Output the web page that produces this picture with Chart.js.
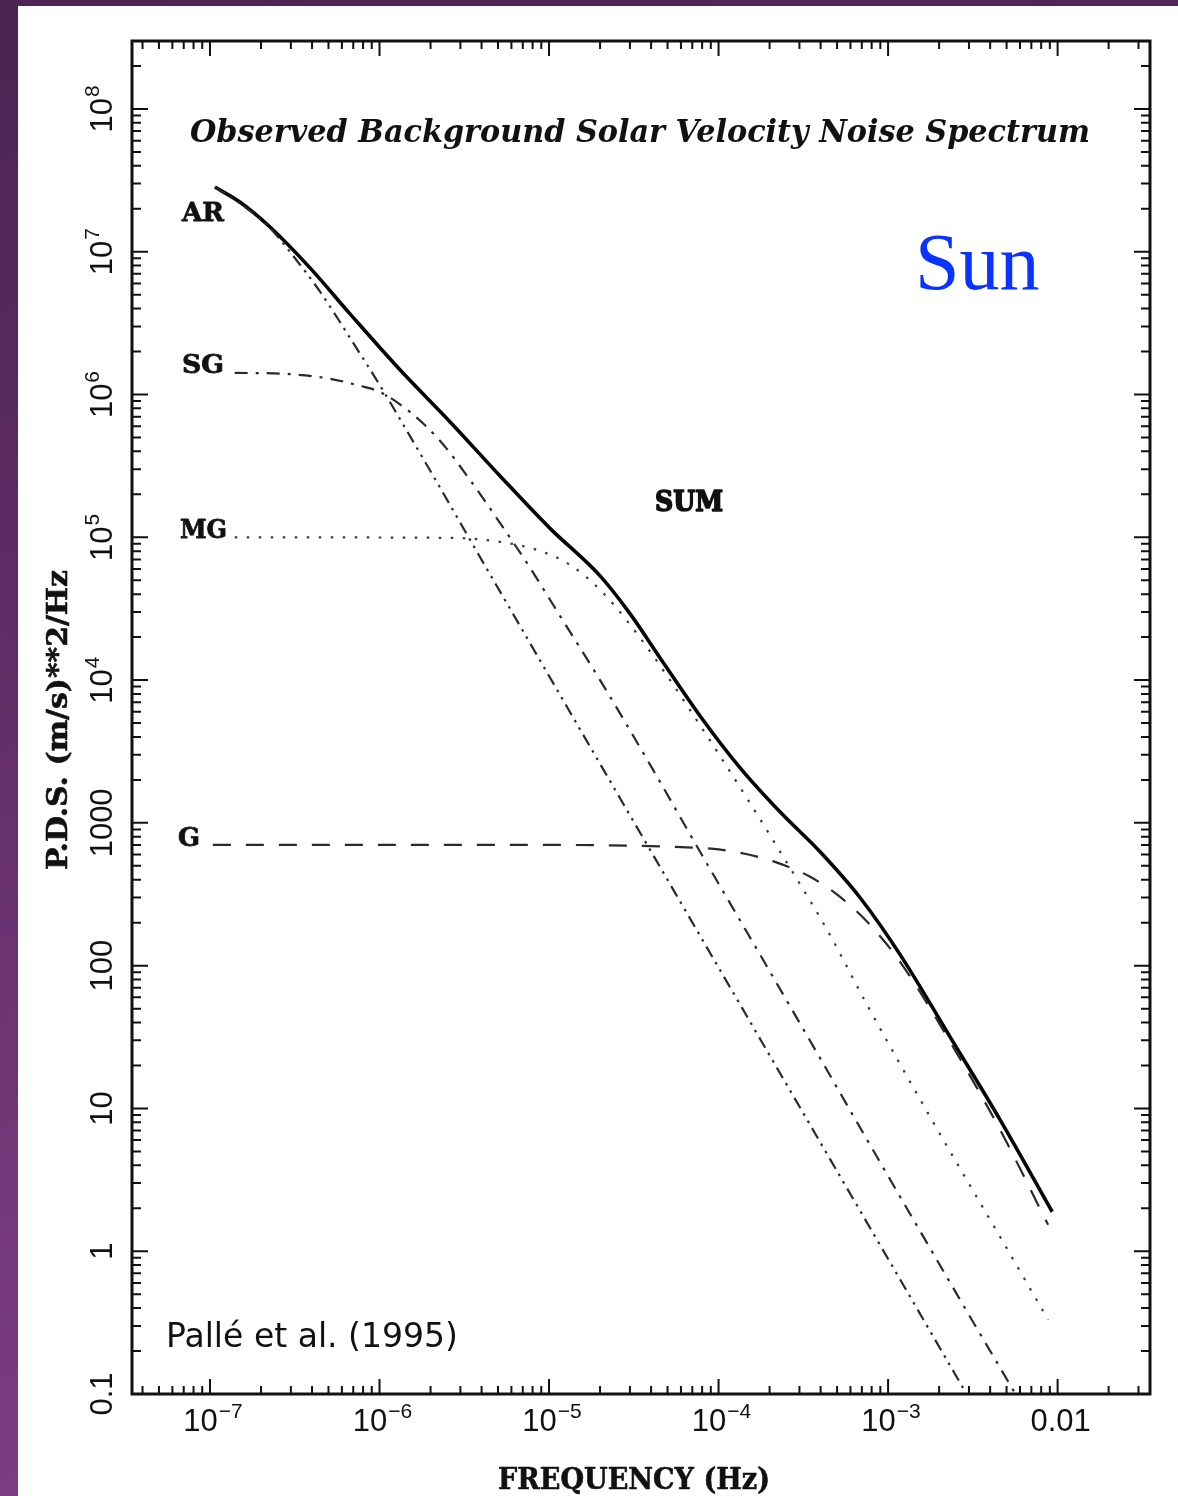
<!DOCTYPE html>
<html>
<head>
<meta charset="utf-8">
<script src="https://cdn.jsdelivr.net/npm/chart.js@4.4.1/dist/chart.umd.min.js"></script>
<style>
  html, body { margin: 0; padding: 0; }
  body {
    width: 1178px; height: 1496px; position: relative; overflow: hidden;
    background: linear-gradient(170deg, #4c2353 0%, #5e2c65 35%, #733879 70%, #7e4085 100%);
  }
  #panel { position: absolute; left: 18px; top: 6px; right: 0; bottom: 0; background: #fff; }
  #contenedor { position: absolute; left: 0; top: 0; width: 1178px; height: 1496px; }
</style>
</head>
<body>
<div id="panel"></div>
<div id="contenedor"><canvas id="graficoEspectro" width="1178" height="1496"></canvas></div>
<script>
// Espectro de ruido de velocidad solar: frecuencia (Hz) y P.D.S. ((m/s)^2/Hz)
const frecSuma = [1.07e-7, 1.50e-7, 2.26e-7, 3.89e-7, 6.70e-7, 1.32e-6, 2.61e-6, 5.14e-6, 1.01e-5, 2.00e-5, 3.01e-5, 4.52e-5, 7.78e-5, 1.34e-4, 2.31e-4, 3.97e-4, 6.84e-4, 1.18e-3, 2.32e-3, 4.58e-3, 9.29e-3];
const pdsSuma  = [2.84e7, 2.23e7, 1.49e7, 7.71e6, 3.67e6, 1.49e6, 6.43e5, 2.69e5, 1.16e5, 5.37e4, 2.91e4, 1.43e4, 5610, 2430, 1190, 627, 299, 119, 31.7, 8.32, 1.89];

// Regiones activas (AR)
const frecAR = [1.07e-7, 1.58e-7, 2.24e-7, 2.96e-7, 4.46e-7, 6.70e-7, 1.01e-6, 1.51e-6, 2.28e-6, 3.42e-6, 5.36e-6, 2.00e-5, 7.78e-5, 3.03e-4, 1.18e-3, 2.85e-3];
const pdsAR  = [2.82e7, 2.09e7, 1.48e7, 1.00e7, 5.25e6, 2.49e6, 1.15e6, 5.13e5, 2.22e5, 9.60e4, 3.83e4, 2590, 162, 10.1, 0.631, 0.104];

// Supergranulación (SG)
const frecSG = [1.40e-7, 2.96e-7, 5.10e-7, 7.67e-7, 1.01e-6, 1.51e-6, 2.28e-6, 3.42e-6, 5.14e-6, 7.73e-6, 1.16e-5, 2.00e-5, 4.11e-5, 7.78e-5, 1.76e-4, 3.81e-4, 7.52e-4, 2.66e-3, 6.01e-3];
const pdsSG  = [1.42e6, 1.39e6, 1.29e6, 1.15e6, 1.04e6, 7.55e5, 4.73e5, 2.52e5, 1.26e5, 6.11e4, 2.82e4, 1.00e4, 2350, 627, 119, 24.5, 6.03, 0.457, 0.0881];

// Mesogranulación (MG)
const frecMG = [1.40e-7, 2.61e-6, 5.14e-6, 8.85e-6, 1.33e-5, 2.00e-5, 3.01e-5, 4.52e-5, 6.79e-5, 1.02e-4, 1.53e-4, 2.31e-4, 4.37e-4, 7.52e-4, 1.84e-3, 4.58e-3, 8.79e-3];
const pdsMG  = [1.00e5, 9.91e4, 9.29e4, 8.03e4, 6.41e4, 4.29e4, 2.44e4, 1.26e4, 6170, 2940, 1380, 627, 178, 53.1, 8.05, 1.26, 0.331];

// Granulación (G)
const frecG = [1.04e-7, 5.14e-6, 7.78e-5, 1.34e-4, 2.15e-4, 3.47e-4, 5.21e-4, 7.83e-4, 1.18e-3, 2.32e-3, 4.58e-3, 8.79e-3];
const pdsG  = [702, 702, 668, 617, 533, 419, 303, 193, 106, 29.3, 7.08, 1.53];

// Marcas principales de los ejes y sus etiquetas [base, exponente]
const ticksFrec = [1e-7, 1e-6, 1e-5, 1e-4, 1e-3, 1e-2];
const etiquetasFrec = [["10", "−7"], ["10", "−6"], ["10", "−5"], ["10", "−4"], ["10", "−3"], ["0.01", ""]];
const ticksPDS = [0.1, 1, 10, 100, 1000, 1e4, 1e5, 1e6, 1e7, 1e8];
const etiquetasPDS = [["0.1", ""], ["1", ""], ["10", ""], ["100", ""], ["1000", ""], ["10", "4"], ["10", "5"], ["10", "6"], ["10", "7"], ["10", "8"]];

const puntos = (fs, ps) => fs.map((f, i) => ({ x: f, y: ps[i] }));

// Escribe un texto comprimido/estirado a un ancho dado
function textoAncho(ctx, texto, x, y, ancho, fuente, trazo) {
    ctx.font = fuente;
    const w = ctx.measureText(texto).width;
    ctx.save();
    ctx.translate(x, y);
    ctx.scale(ancho / w, 1);
    ctx.textAlign = "left";
    if (trazo) {
        ctx.lineWidth = trazo;
        ctx.lineJoin = "round";
        ctx.strokeText(texto, 0, 0);
    }
    ctx.fillText(texto, 0, 0);
    ctx.restore();
}

// Etiqueta tipo 10^n centrada en (0,0) del sistema actual
function etiquetaPotencia(ctx, base, exp) {
    const fBase = "31px 'Liberation Sans', Arial, sans-serif";
    const fExp = "21px 'Liberation Sans', Arial, sans-serif";
    ctx.font = fBase;
    const wb = ctx.measureText(base).width;
    ctx.font = fExp;
    const we = exp ? ctx.measureText(exp).width + 1 : 0;
    const x0 = -(wb + we) / 2;
    ctx.textAlign = "left";
    ctx.font = fBase;
    ctx.fillText(base, x0, 0);
    if (exp) {
        ctx.font = fExp;
        ctx.fillText(exp, x0 + wb + 1, -13);
    }
}

// Marco, marcas hacia dentro en los cuatro lados, etiquetas y rótulos
const marcoEjes = {
    id: "marcoEjes",
    afterDatasetsDraw(chart) {
        const { ctx, chartArea: a, scales: { x, y } } = chart;
        ctx.save();
        ctx.strokeStyle = "#111";
        ctx.fillStyle = "#111";

        // Marcas menores y mayores
        const marcas = (escala, desdeDec, hastaDec) => {
            const lista = [];
            for (let d = desdeDec; d <= hastaDec; d++) {
                for (let m = 1; m <= 9; m++) {
                    const v = m * Math.pow(10, d);
                    if (v >= escala.min * 0.999 && v <= escala.max * 1.001) lista.push({ v, mayor: m === 1 });
                }
            }
            return lista;
        };
        ctx.lineWidth = 2;
        ctx.beginPath();
        marcas(x, -8, -1).forEach(({ v, mayor }) => {
            const px = x.getPixelForValue(v);
            const l = mayor ? 15 : 8;
            ctx.moveTo(px, a.bottom); ctx.lineTo(px, a.bottom - l);
            ctx.moveTo(px, a.top); ctx.lineTo(px, a.top + l);
        });
        marcas(y, -1, 8).forEach(({ v, mayor }) => {
            const py = y.getPixelForValue(v);
            const l = mayor ? 16 : 9;
            ctx.moveTo(a.left, py); ctx.lineTo(a.left + l, py);
            ctx.moveTo(a.right, py); ctx.lineTo(a.right - l, py);
        });
        ctx.stroke();

        ctx.lineWidth = 3;
        ctx.strokeRect(a.left, a.top, a.right - a.left, a.bottom - a.top);

        // Etiquetas del eje X
        ctx.textBaseline = "alphabetic";
        ticksFrec.forEach((v, i) => {
            ctx.save();
            ctx.translate(x.getPixelForValue(v) + 3, a.bottom + 37);
            etiquetaPotencia(ctx, etiquetasFrec[i][0], etiquetasFrec[i][1]);
            ctx.restore();
        });
        // Etiquetas del eje Y, giradas
        ticksPDS.forEach((v, i) => {
            ctx.save();
            ctx.translate(a.left - 20, y.getPixelForValue(v));
            ctx.rotate(-Math.PI / 2);
            etiquetaPotencia(ctx, etiquetasPDS[i][0], etiquetasPDS[i][1]);
            ctx.restore();
        });

        // Títulos de los ejes
        textoAncho(ctx, "FREQUENCY (Hz)", 498, 1489, 272, "bold 29px 'DejaVu Serif', serif", 0.6);
        ctx.save();
        ctx.translate(67, 870);
        ctx.rotate(-Math.PI / 2);
        textoAncho(ctx, "P.D.S. (m/s)**2/Hz", 0, 0, 300, "bold 28px 'DejaVu Serif', serif", 0.6);
        ctx.restore();

        // Título interior y nombres de las curvas
        textoAncho(ctx, "Observed Background Solar Velocity Noise Spectrum", 190, 142, 900, "bold italic 31px 'DejaVu Serif', serif");
        textoAncho(ctx, "AR", 182, 221, 42, "bold 26px 'DejaVu Serif', serif", 0.8);
        textoAncho(ctx, "SG", 182, 373, 42, "bold 26px 'DejaVu Serif', serif", 0.8);
        textoAncho(ctx, "MG", 180, 538, 47, "bold 26px 'DejaVu Serif', serif", 0.8);
        textoAncho(ctx, "G", 178, 846, 22, "bold 26px 'DejaVu Serif', serif", 0.8);
        textoAncho(ctx, "SUM", 655, 511, 68, "bold 27px 'DejaVu Serif', serif", 1.6);

        ctx.fillStyle = "#0a33ff";
        ctx.font = "80px 'Liberation Serif', 'Times New Roman', serif";
        ctx.textAlign = "left";
        ctx.fillText("Sun", 915, 289);

        ctx.fillStyle = "#111";
        textoAncho(ctx, "Pallé et al. (1995)", 166, 1347, 292, "33px 'DejaVu Sans', sans-serif");
        ctx.restore();
    }
};

const lineaBase = {
    borderColor: "#2a2a2a",
    borderWidth: 2.2,
    pointRadius: 0,
    fill: false,
    cubicInterpolationMode: "monotone"
};

const ctx = document.getElementById("graficoEspectro").getContext("2d");
new Chart(ctx, {
    type: "line",
    data: {
        datasets: [
            { ...lineaBase, label: "G", data: puntos(frecG, pdsG), borderDash: [18, 15] },
            { ...lineaBase, label: "MG", data: puntos(frecMG, pdsMG), borderDash: [2.5, 9.5], borderColor: "#3a3a3a" },
            { ...lineaBase, label: "SG", data: puntos(frecSG, pdsSG), borderDash: [13, 8, 3, 8] },
            { ...lineaBase, label: "AR", data: puntos(frecAR, pdsAR), borderDash: [12, 6, 2.5, 6, 2.5, 6] },
            { ...lineaBase, label: "SUM", data: puntos(frecSuma, pdsSuma), borderColor: "#050505", borderWidth: 3.6 }
        ]
    },
    options: {
        responsive: false,
        animation: false,
        devicePixelRatio: 1,
        layout: { padding: { top: 41, right: 28, left: 0, bottom: 0 } },
        plugins: { legend: { display: false }, tooltip: { enabled: false } },
        scales: {
            x: {
                type: "logarithmic",
                bounds: "data",
                min: Math.pow(10, -7.46),
                max: Math.pow(10, -1.455),
                ticks: { display: false },
                grid: { display: false },
                border: { display: false },
                afterFit: (s) => { s.height = 102; }
            },
            y: {
                type: "logarithmic",
                bounds: "data",
                min: 0.1,
                max: Math.pow(10, 8.476),
                ticks: { display: false },
                grid: { display: false },
                border: { display: false },
                afterFit: (s) => { s.width = 132; }
            }
        }
    },
    plugins: [marcoEjes]
});
</script>
</body>
</html>
